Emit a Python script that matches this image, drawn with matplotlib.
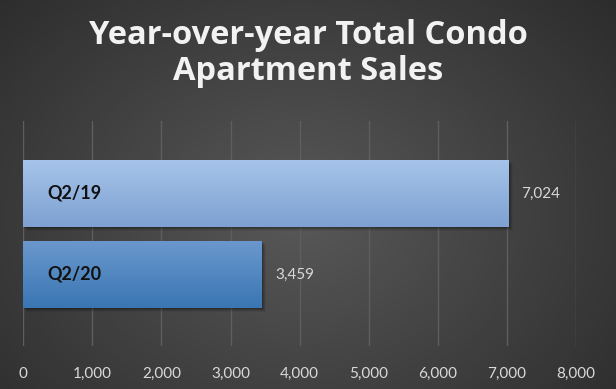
import numpy as np
import matplotlib.pyplot as plt
import matplotlib.transforms as mtransforms
from matplotlib.colors import LinearSegmentedColormap
from matplotlib.patches import Rectangle
from matplotlib.ticker import FuncFormatter

# data
categories = ['Q2/20', 'Q2/19']
sales = [3459, 7024]
top_colors = ['#6a98cd', '#a6c4ea']
bottom_colors = ['#3a76b3', '#7ea1d2']
x_ticks = [0, 1000, 2000, 3000, 4000, 5000, 6000, 7000, 8000]

plt.rcParams['font.family'] = ['Lato', 'DejaVu Sans']

fig = plt.figure(figsize=(6.16, 3.89), dpi=100)

# dark radial background
bg = fig.add_axes([0, 0, 1, 1], zorder=-10)
yy, xx = np.mgrid[0:389, 0:616]
r = np.sqrt(((xx - 300) / 420.0) ** 2 + ((yy - 215) / 330.0) ** 2)
bg_cmap = LinearSegmentedColormap.from_list('bg', ['#585858', '#2c2c2c'])
bg.imshow(r, cmap=bg_cmap, vmin=0, vmax=1.0, aspect='auto', interpolation='bilinear')
bg.axis('off')

ax = fig.add_axes([23.3 / 616, 1 - 346 / 389, (576 - 23.3) / 616, 225 / 389])
ax.set_facecolor('none')

y_pos = np.arange(len(categories))
bars = ax.barh(y_pos, sales, height=0.827, facecolor='none', edgecolor='none', zorder=3)

ax.set_xlim(0, 8000)
ax.set_ylim(-0.883, 1.895)
ax.set_xticks(x_ticks)
ax.xaxis.set_major_formatter(FuncFormatter(lambda v, p: f'{int(v):,}'))
ax.set_yticks([])
ax.grid(axis='x', color='#5e5e5e', lw=1.0, zorder=0)
ax.set_axisbelow(True)
ax.tick_params(axis='x', length=0, pad=15, labelsize=11, labelcolor='#d9d9d9')
for s in ax.spines.values():
    s.set_visible(False)

for bar, val, cat, c_top, c_bot in zip(bars, sales, categories, top_colors, bottom_colors):
    x0, y0 = bar.get_x(), bar.get_y()
    w, h = bar.get_width(), bar.get_height()
    # soft drop shadow
    for k, a in [(4, 0.06), (3, 0.09), (2, 0.12), (1, 0.15)]:
        off = mtransforms.ScaledTranslation(k / 100, -k / 100, fig.dpi_scale_trans)
        sh = Rectangle((x0, y0), w, h, facecolor='black', alpha=a, edgecolor='none',
                       transform=ax.transData + off, zorder=2)
        ax.add_patch(sh)
    grad = np.linspace(0, 1, 100).reshape(-1, 1)
    cmap = LinearSegmentedColormap.from_list('g', [c_bot, c_top])
    im = ax.imshow(grad, cmap=cmap, extent=(x0, x0 + w, y0, y0 + h), origin='lower',
                   aspect='auto', zorder=3, interpolation='bilinear')
    im.set_clip_path(bar)
    ax.text(350, y0 + h / 2, cat, ha='left', va='center', fontsize=13,
            fontweight='bold', color='#111111', zorder=4)
    ax.annotate(f'{val:,}', (x0 + w, y0 + h / 2), xytext=(13, 0), textcoords='offset pixels',
                ha='left', va='center', fontsize=11, color='#d9d9d9', zorder=4)

ax.set_aspect('auto')
ax.set_xlim(0, 8000)
ax.set_ylim(-0.883, 1.895)

fig.text(0.5, 1 - 53 / 389, 'Year-over-year Total Condo\nApartment Sales', ha='center', va='center',
         fontsize=23.5, fontweight='bold', color='#f2f2f2', linespacing=1.12,
         family=['Open Sans', 'DejaVu Sans'])

fig.savefig('out.png', dpi=100)
